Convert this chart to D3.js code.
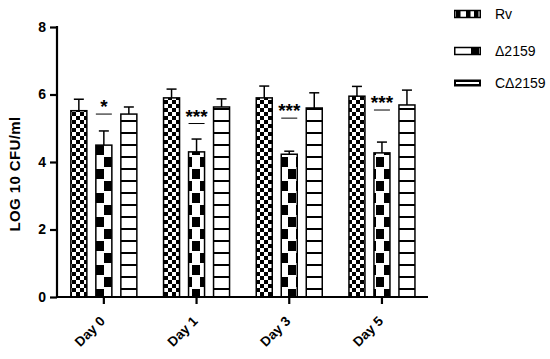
<!DOCTYPE html>
<html><head><meta charset="utf-8">
<script src="https://cdn.jsdelivr.net/npm/d3@7/dist/d3.min.js"></script>
<style>body{margin:0;background:#fff}svg{display:block}text{font-family:"Liberation Sans",Arial,sans-serif}</style>
</head><body><svg id="c" width="550" height="359"></svg>
<script>
const days = ["Day 0","Day 1","Day 3","Day 5"];
const series = ["Rv","\u03942159","C\u03942159"];
const rvMean = [5.52,5.9,5.9,5.95];
const rvErr  = [0.34,0.26,0.35,0.29];
const dMean  = [4.5,4.3,4.23,4.27];
const dErr   = [0.42,0.38,0.09,0.32];
const cMean  = [5.42,5.63,5.6,5.69];
const cErr   = [0.21,0.24,0.45,0.44];
const sigLabels = ["*","***","***","***"];
const sigLevels = [5.42,5.14,5.3,5.54];
const yTicks = [0,2,4,6,8];

const svg = d3.select("#c");
const x = d3.scaleBand().domain(days).range([57.5,428.3]);
const xi = d3.scaleBand().domain(series).range([-37.5,37.5]).paddingInner(0.36).paddingOuter(0.18);
const y = d3.scaleLinear().domain([0,8]).range([297,27]);

const defs = svg.append("defs");
const p1 = defs.append("pattern").attr("id","pRv").attr("patternUnits","userSpaceOnUse").attr("width",8).attr("height",8);
p1.append("rect").attr("width",8).attr("height",8).attr("fill","#fff");
p1.append("rect").attr("width",4).attr("height",4).attr("fill","#000");
p1.append("rect").attr("x",4).attr("y",4).attr("width",4).attr("height",4).attr("fill","#000");
const p2 = defs.append("pattern").attr("id","pD").attr("patternUnits","userSpaceOnUse").attr("width",16).attr("height",24);
p2.append("rect").attr("width",16).attr("height",24).attr("fill","#fff");
p2.append("rect").attr("x",0).attr("y",1).attr("width",8).attr("height",10).attr("fill","#000");
p2.append("rect").attr("x",8).attr("y",13).attr("width",8).attr("height",10).attr("fill","#000");
const p3 = defs.append("pattern").attr("id","pC").attr("patternUnits","userSpaceOnUse").attr("width",16).attr("height",12);
p3.append("rect").attr("width",16).attr("height",12).attr("fill","#fff");
p3.append("rect").attr("y",0).attr("width",16).attr("height",2).attr("fill","#000");
const fills = ["url(#pRv)","url(#pD)","url(#pC)"];

const means = [rvMean,dMean,cMean], errs = [rvErr,dErr,cErr];
const rows = [];
days.forEach((d,i)=>series.forEach((s,j)=>rows.push({d,s,j,m:means[j][i],e:errs[j][i]})));

const g = svg.append("g");
rows.forEach(r=>{
  const cx = x(r.d)+x.bandwidth()/2+xi(r.s)+xi.bandwidth()/2;
  g.append("line").attr("x1",cx).attr("x2",cx).attr("y1",y(r.m)).attr("y2",y(r.m+r.e)).attr("stroke","#000").attr("stroke-width",1.5);
  g.append("line").attr("x1",cx-5).attr("x2",cx+5).attr("y1",y(r.m+r.e)).attr("y2",y(r.m+r.e)).attr("stroke","#000").attr("stroke-width",1.5);
});
g.selectAll("rect.bar").data(rows).join("rect").attr("class","bar")
  .attr("x",r=>x(r.d)+x.bandwidth()/2+xi(r.s))
  .attr("width",xi.bandwidth())
  .attr("y",r=>y(r.m)).attr("height",r=>y(0)-y(r.m))
  .attr("fill",r=>fills[r.j]).attr("stroke","#000").attr("stroke-width",1.5);

days.forEach((d,i)=>{
  const x0 = x(d)+x.bandwidth()/2+xi(series[1]);
  const ly = y(sigLevels[i]);
  g.append("line").attr("x1",x0).attr("x2",x0+xi.bandwidth()).attr("y1",ly).attr("y2",ly).attr("stroke","#000").attr("stroke-width",1);
  g.append("text").attr("x",x0+xi.bandwidth()/2).attr("y",ly-1).attr("text-anchor","middle")
   .attr("font-size",19).attr("font-weight","bold").text(sigLabels[i]);
});

const ya = svg.append("g").attr("transform","translate(57,0)")
  .call(d3.axisLeft(y).tickValues(yTicks).tickSize(7).tickPadding(4).tickFormat(d3.format("d")));
ya.select(".domain").attr("stroke-width",2.2).attr("d","M0,26V297");
ya.selectAll(".tick line").attr("stroke-width",2.2);
ya.selectAll("text").attr("font-size",14).attr("font-weight","bold").attr("fill","#000");

const xa = svg.append("g").attr("transform","translate(0,297)")
  .call(d3.axisBottom(x).tickSize(7).tickSizeOuter(0));
xa.select(".domain").attr("stroke-width",2.2).attr("d","M56,0H428");
xa.selectAll(".tick line").attr("stroke-width",2.2);
xa.selectAll("text").attr("font-size",13.5).attr("font-weight","bold").attr("fill","#000")
  .attr("text-anchor","end").attr("dy",0).attr("y",0).attr("x",0)
  .attr("transform","translate(2,25) rotate(-45)");

svg.append("text").attr("transform","translate(20,174) rotate(-90)").attr("text-anchor","middle")
  .attr("font-size",15).attr("font-weight","bold").attr("letter-spacing",0.4).text("LOG 10 CFU/ml");

const legY = [14,51,83];
series.forEach((s,j)=>{
  const lg = svg.append("g").attr("transform",`translate(454,${legY[j]})`);
  if(j===2){
    lg.append("rect").attr("x",0).attr("y",-3.5).attr("width",27).attr("height",7).attr("fill","#000");
    lg.append("rect").attr("x",2).attr("y",-1).attr("width",23).attr("height",2).attr("fill","#fff");
  } else {
    lg.append("rect").attr("x",0.75).attr("y",-3.5).attr("width",25.5).attr("height",7).attr("fill","#fff").attr("stroke","#000").attr("stroke-width",1.5);
    if(j===0){ [2,12,20].forEach(xx=>lg.append("rect").attr("x",xx).attr("y",-3).attr("width",4.5).attr("height",6).attr("fill","#000")); }
    else { lg.append("rect").attr("x",17).attr("y",-3).attr("width",8).attr("height",6).attr("fill","#000"); }
  }
  lg.append("text").attr("x",41).attr("y",5).attr("font-size",14).text(s);
});
</script></body></html>
